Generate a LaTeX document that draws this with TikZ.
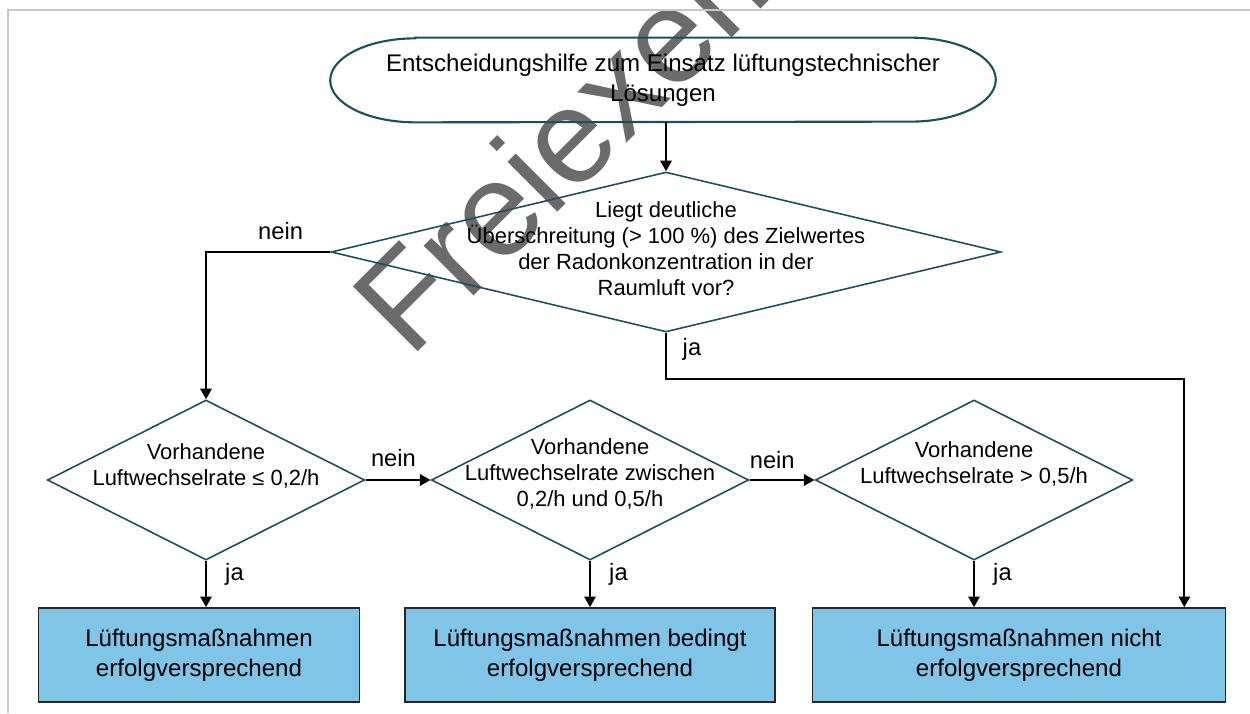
\documentclass[tikz,border=0pt]{standalone}
\usepackage{fontspec}
\setmainfont{Liberation Sans}
\usepackage{tikz}
\usetikzlibrary{shapes.geometric}
\usetikzlibrary{calc}
\usetikzlibrary{arrows.meta}
\usepackage{xcolor}

\definecolor{tealline}{HTML}{1F4E5B}
\definecolor{boxblue}{HTML}{80C4E8}
\definecolor{framegray}{HTML}{C8C8C8}

\tikzset{
    decision/.style={draw=tealline, line width=0.9pt, diamond, minimum width=6.35cm, minimum height=3.2cm, inner sep=0pt},
    qtext/.style={align=center, font=\fontsize{12.5}{14.8}\selectfont, inner sep=0pt},
    result/.style={draw=black!85, line width=1pt, fill=boxblue, minimum height=1.88cm, align=center, font=\fontsize{13.7}{17}\selectfont},
    arrow/.style={line width=1pt, -{Triangle[length=6pt, width=6.5pt]}},
    answer/.style={font=\fontsize{13.5}{15}\selectfont}
}

\begin{document}
\begin{tikzpicture}[x=0.02cm, y=-0.02cm]
    \useasboundingbox (0,0) rectangle (1250,713);

    % Watermark
    \begin{scope}
        \clip (0,0) rectangle (1250,713);
        \node[rotate=45, anchor=base west, text=black!58, font=\fontsize{76}{80}\selectfont, inner sep=0pt] (mark) at (410,360) {Freiexemplar};
    \end{scope}

    % Frame
    \draw[framegray, line width=1.2pt] (1250,10) -- (8,10) -- (8,713);

    % Start
    \node[align=center, font=\fontsize{13.7}{17}\selectfont, minimum width=13.3cm, minimum height=1.68cm, inner sep=0pt] (start) at (663,80) {Entscheidungshilfe zum Einsatz lüftungstechnischer\\Lösungen};
    \draw[tealline, line width=1.2pt] ($(start.north west)+(85,0)$) -- ($(start.north east)+(-85,0)$)
        arc[start angle=90, end angle=-90, x radius=1.7cm, y radius=0.84cm]
        -- ($(start.south west)+(85,0)$)
        arc[start angle=270, end angle=90, x radius=1.7cm, y radius=0.84cm] -- cycle;

    % Decisions
    \node[decision, minimum width=13.4cm, label={[qtext, yshift=0.06cm]center:{Liegt deutliche\\Überschreitung (> 100 \%) des Zielwertes\\der Radonkonzentration in der\\Raumluft vor?}}] (q1) at (666,252) {};
    \node[decision, label={[qtext, yshift=0.28cm]center:{Vorhandene\\Luftwechselrate ≤ 0,2/h}}] (q2) at (206,480) {};
    \node[decision, label={[qtext, yshift=0.13cm]center:{Vorhandene\\Luftwechselrate zwischen\\0,2/h und 0,5/h}}] (q3) at (590,480) {};
    \node[decision, label={[qtext, yshift=0.32cm]center:{Vorhandene\\Luftwechselrate > 0,5/h}}] (q4) at (974,480) {};

    % Results
    \node[result, minimum width=6.42cm] (b1) at (199,655) {Lüftungsmaßnahmen\\erfolgversprechend};
    \node[result, minimum width=7.4cm] (b2) at (590,655) {Lüftungsmaßnahmen bedingt\\erfolgversprechend};
    \node[result, minimum width=8.26cm] (b3) at (1019,655) {Lüftungsmaßnahmen nicht\\erfolgversprechend};

    % Connections
    \draw[arrow] (start.south -| q1.north) -- (q1.north);
    \draw[arrow] (q1.west) -| node[answer, pos=0.2, above, yshift=0.12cm] {nein} (q2.north);
    \draw[arrow] (q1.south) -- ++(0,46) node[answer, pos=0.35, right, xshift=0.2cm] {ja} -| ([xshift=-0.84cm]b3.north east);
    \draw[arrow] (q2.east) -- node[answer, pos=0.43, above, yshift=0.14cm] {nein} (q3.west);
    \draw[arrow] (q3.east) -- node[answer, pos=0.35, above, yshift=0.1cm] {nein} (q4.west);
    \draw[arrow] (q2.south) -- node[answer, pos=0.3, right, xshift=0.25cm] {ja} (b1.north -| q2.south);
    \draw[arrow] (q3.south) -- node[answer, pos=0.3, right, xshift=0.25cm] {ja} (b2.north);
    \draw[arrow] (q4.south) -- node[answer, pos=0.3, right, xshift=0.25cm] {ja} (b3.north -| q4.south);
\end{tikzpicture}
\end{document}
